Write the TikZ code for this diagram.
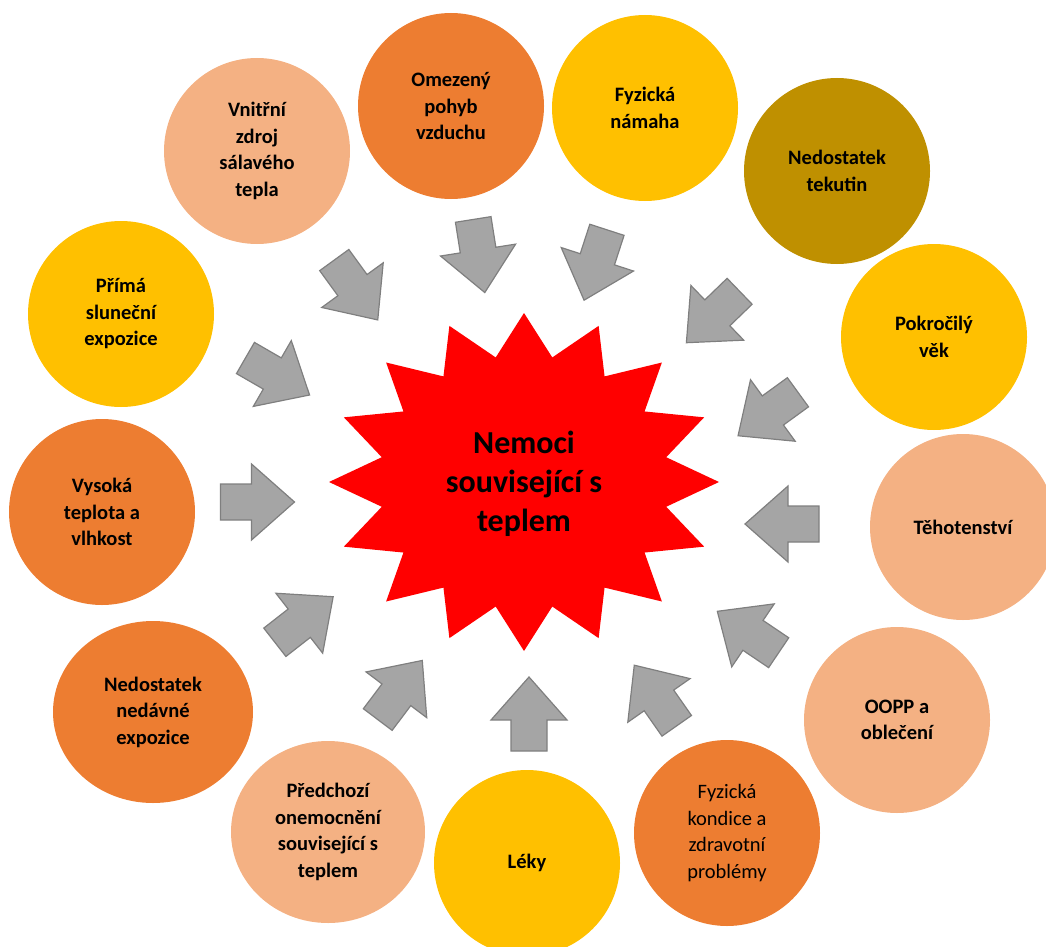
\documentclass[tikz,border=0pt]{standalone}
\usepackage{fontspec}
\setmainfont{Carlito}
\usetikzlibrary{shapes.geometric}

\definecolor{orangec}{HTML}{ED7D31}
\definecolor{yellowc}{HTML}{FFC000}
\definecolor{lightc}{HTML}{F4B183}
\definecolor{goldc}{HTML}{BF9000}
\definecolor{arrowfill}{HTML}{A5A5A5}
\definecolor{arrowline}{HTML}{7F7F7F}

\tikzset{
    pics/blockarrow/.style={code={
        \path[draw=arrowline, fill=arrowfill, line width=1.2pt, line join=miter]
            (-37,-18) -- (-6,-18) -- (-6,-38) -- (37,0) -- (-6,38) -- (-6,18) -- (-37,18) -- cycle;
    }}
}

\begin{document}
\begin{tikzpicture}[
    x=1pt, y=-1pt,
    factor/.style={ellipse, minimum width=186pt, minimum height=186pt, inner sep=0pt,
        align=center, text=black, font=\bfseries\fontsize{20.5}{26.5}\selectfont},
    orange/.style={factor, fill=orangec},
    yellow/.style={factor, fill=yellowc},
    light/.style={factor, fill=lightc},
    gold/.style={factor, fill=goldc},
    orangewide/.style={orange, minimum width=200pt, minimum height=182pt},
    lightwide/.style={light, minimum width=194pt, minimum height=182pt},
    plain/.style={orange, font=\fontsize{20.5}{26.5}\selectfont},
    hubtext/.style={align=center, font=\bfseries\fontsize{32}{39}\selectfont}
]
\useasboundingbox (0,0) rectangle (1046,947);

% Star in the middle
\fill[red, shift={(524,482)}] (90:195 and 169)
    \foreach \i in {0,...,15} {
        -- ({101.25+22.5*\i}:145 and 127) -- ({112.5+22.5*\i}:195 and 169)
    } -- cycle;
\node[hubtext] (hub) at (524,484) {Nemoci\\související s\\teplem};

% Factors around the star
\foreach \n/\x/\y/\s/\t in {
    F1/257/151/light/{Vnitřní\\zdroj\\sálavého\\tepla},
    F2/451/106/orange/{Omezený\\pohyb\\vzduchu},
    F3/645/108/yellow/{Fyzická\\námaha},
    F4/837/171/gold/{Nedostatek\\tekutin},
    F5/934/337/yellow/{Pokročilý\\věk},
    F6/963/527/light/{Těhotenství},
    F7/897/720/light/{OOPP a\\oblečení},
    F8/727/833/plain/{Fyzická\\kondice a\\zdravotní\\problémy},
    F9/527/863/yellow/{Léky},
    F10/328/832/lightwide/{Předchozí\\onemocnění\\související s\\teplem},
    F11/153/712/orangewide/{Nedostatek\\nedávné\\expozice},
    F12/102/512/orange/{Vysoká\\teplota a\\vlhkost},
    F13/121/314/yellow/{Přímá\\sluneční\\expozice}} {
    \node[\s] (\n) at (\x,\y) {\t};
}

% Block arrows towards the star
\foreach \x/\y/\a in {356/290/-54, 479/256/-81, 595.5/265/-108, 713/317/-136,
    768/414/-144, 782/524/180, 748/632/146, 655.5/695.5/125, 529/714/90,
    400/690/53, 304/619.5/38, 257.5/502/0, 277.5/376.5/-30} {
    \pic[rotate=\a] at (\x,\y) {blockarrow};
}
\end{tikzpicture}
\end{document}
